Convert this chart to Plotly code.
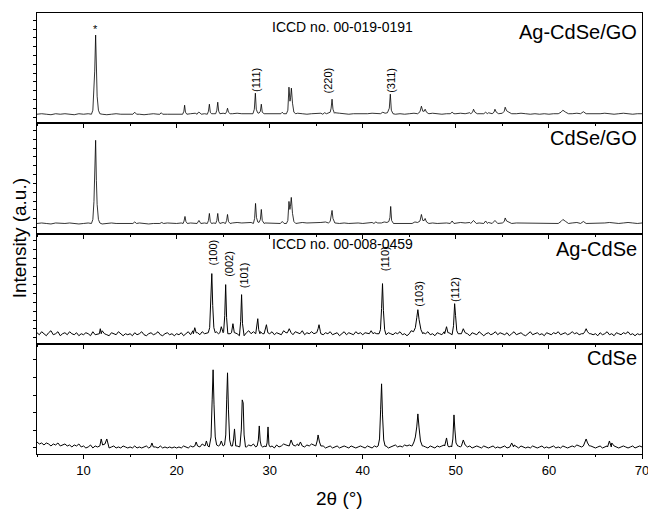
import plotly.graph_objects as go
from plotly.subplots import make_subplots

# ---------------- data (intensity in arbitrary units) ----------------
PANELS = ["Ag-CdSe/GO", "CdSe/GO", "Ag-CdSe", "CdSe"]
X_MIN, X_MAX = 5, 70
X_TICKS = [10, 20, 30, 40, 50, 60, 70]

# baselines: start angle, step, values
BASE_START = 5.0
BASE_STEP_GO = 0.5
BASE_STEP_NOISY = 0.25

BASE_AGCDSE_GO = [
    9, 9.5, 9, 8.5, 9.5, 9, 9.5, 9, 8.5, 9.5,
    9, 9.5, 9, 9.5, 9, 8.5, 9, 9.5, 9, 9,
    9, 9.5, 9, 8.5, 9, 9.5, 9, 9.5, 9, 9,
    9.5, 9, 9, 9.5, 10, 9.5, 9.5, 10, 9.5, 10,
    10, 9.5, 9.5, 10, 9.5, 9.5, 10, 9.5, 10, 9.5,
    9.5, 9, 9.5, 10, 9.5, 9.5, 10, 9.5, 9, 9.5,
    9.5, 10, 9.5, 10, 10.5, 10, 9.5, 9, 9.5, 9.5,
    9, 9.5, 10, 9.5, 10, 10.5, 9.5, 9, 9.5, 9,
    9.5, 10, 10.5, 10, 9.5, 10, 9.5, 9, 9.5, 10,
    9.5, 10, 9.5, 10.5, 10, 9.5, 10, 10.5, 10, 10.5,
    10, 10.5, 10, 9.5, 10, 9.5, 9, 9.5, 9, 9.5,
    9, 9.5, 10, 10.5, 10, 9.5, 10, 10.5, 10, 9.5,
    9, 9.5, 10, 9.5, 9, 9.5, 10, 9.5, 9, 9.5,
    9.5,
]
BASE_CDSE_GO = [
    10, 10.5, 10, 9.5, 10.5, 10, 10, 10.5, 10, 9.5,
    10, 10.5, 10, 10, 9.5, 10, 10.5, 10, 10, 10.5,
    10, 10, 10.5, 10, 9.5, 10, 10.5, 10, 10.5, 10,
    10, 10.5, 10, 10.5, 10.5, 11, 10.5, 11, 10.5, 11,
    11, 10.5, 10.5, 11, 10.5, 10.5, 11, 10.5, 11, 10.5,
    10.5, 10, 10.5, 11, 10.5, 10, 10.5, 11, 10.5, 10.5,
    10.5, 11, 11.5, 11, 10.5, 10, 10.5, 10, 10.5, 10.5,
    10, 10.5, 11, 10.5, 11, 10.5, 10.5, 10, 10.5, 10,
    10.5, 11, 11.5, 11, 10.5, 10.5, 10, 10.5, 10.5, 11,
    10.5, 11, 10.5, 11, 11.5, 10.5, 11, 11, 10.5, 11,
    11, 11.5, 11, 10.5, 10.5, 10, 10.5, 10, 10.5, 10,
    10.5, 10, 10.5, 11, 10.5, 10.5, 11, 11, 10.5, 10,
    10.5, 10, 10.5, 11, 10.5, 10, 10.5, 11, 10.5, 10,
    10.5,
]
BASE_AGCDSE = [
    11, 9, 12, 10, 8, 11, 13, 9, 10, 12, 8, 10, 11, 9, 12, 10, 9, 11, 8, 10,
    9, 11, 10, 8, 12, 9, 10, 11, 13, 10, 9, 8, 11, 10, 9, 12, 10, 8, 10, 9,
    10, 8, 11, 9, 10, 12, 9, 8, 10, 11, 9, 10, 12, 9, 8, 10, 11, 9, 10, 8,
    10, 9, 11, 8, 10, 12, 9, 13, 10, 11, 9, 12, 10, 11, 9, 10, 11, 12, 10, 13,
    11, 10, 12, 10, 13, 11, 10, 9, 12, 10, 11, 13, 10, 12, 10, 11, 12, 10, 13, 11,
    10, 12, 9, 11, 10, 9, 13, 11, 12, 10, 9, 12, 11, 10, 13, 9, 11, 10, 12, 10,
    11, 13, 10, 9, 11, 10, 12, 9, 10, 11, 8, 10, 12, 9, 11, 10, 9, 12, 10, 11,
    9, 11, 10, 12, 9, 11, 10, 8, 10, 12, 9, 11, 10, 9, 11, 10, 12, 9, 10, 8,
    10, 11, 9, 12, 10, 9, 11, 10, 12, 9, 10, 8, 11, 10, 9, 12, 10, 11, 9, 10,
    9, 11, 10, 12, 9, 10, 8, 11, 10, 9, 12, 10, 8, 10, 11, 9, 10, 12, 9, 11,
    10, 9, 11, 8, 10, 12, 9, 10, 11, 9, 8, 10, 12, 9, 10, 11, 9, 10, 8, 11,
    10, 9, 11, 10, 12, 9, 10, 11, 9, 10, 12, 10, 11, 9, 10, 12, 13, 11, 10, 9,
    10, 8, 11, 9, 10, 12, 9, 10, 8, 11, 10, 9, 11, 10, 12, 9, 10, 8, 10, 9,
    10,
]
BASE_CDSE = [
    13, 11, 12, 10, 12, 11, 9, 11, 10, 12, 9, 10, 11, 9, 10, 8, 10, 9, 11, 8,
    9, 7, 8, 10, 7, 9, 8, 7, 9, 8, 10, 7, 8, 9, 7, 8, 7, 9, 8, 7,
    8, 7, 9, 7, 8, 7, 8, 9, 7, 8, 7, 8, 7, 9, 7, 8, 7, 8, 7, 8,
    7, 8, 7, 9, 8, 7, 9, 8, 10, 9, 8, 11, 9, 10, 8, 9, 10, 11, 9, 10,
    9, 8, 10, 9, 8, 10, 9, 8, 11, 9, 8, 10, 9, 11, 8, 9, 10, 8, 9, 8,
    8, 9, 7, 10, 8, 9, 11, 10, 9, 12, 10, 9, 11, 10, 9, 8, 10, 9, 11, 10,
    9, 10, 8, 9, 7, 8, 9, 7, 8, 9, 7, 8, 9, 8, 7, 9, 8, 7, 8, 9,
    8, 7, 9, 8, 7, 9, 8, 10, 9, 8, 9, 7, 8, 9, 10, 8, 9, 8, 10, 9,
    10, 9, 11, 10, 9, 8, 9, 8, 7, 9, 8, 7, 9, 8, 9, 10, 9, 8, 9, 8,
    10, 9, 8, 9, 7, 8, 9, 7, 8, 9, 8, 7, 9, 8, 7, 8, 9, 7, 8, 7,
    8, 9, 7, 8, 9, 10, 8, 7, 9, 8, 7, 8, 7, 9, 8, 7, 8, 9, 7, 8,
    7, 8, 9, 7, 8, 7, 9, 8, 7, 8, 9, 8, 10, 9, 8, 10, 13, 10, 9, 8,
    7, 8, 9, 7, 8, 9, 8, 12, 9, 8, 7, 8, 9, 8, 7, 8, 9, 7, 8, 9,
    8,
]

# peaks: (angles, intensities)
PEAKS_AGCDSE_GO = [
    ([10.85, 11.0, 11.12, 11.2, 11.3, 11.38, 11.46, 11.6, 11.75], [9, 13, 30, 52, 88, 50, 27, 13, 9.5]),
    ([15.3, 15.5, 15.7], [9, 11, 9]),
    ([18.2, 18.35, 18.5], [9, 10.5, 9]),
    ([20.65, 20.78, 20.86, 20.95, 21.1], [9, 12, 18, 11, 9]),
    ([22.2, 22.35, 22.5, 22.65], [9, 11, 10.5, 9]),
    ([23.3, 23.42, 23.52, 23.62, 23.75], [9, 12, 19, 11, 9.5]),
    ([24.2, 24.32, 24.42, 24.52, 24.65], [9.5, 13, 21, 12, 9.5]),
    ([25.25, 25.37, 25.47, 25.57, 25.75], [9.5, 11.5, 15, 11, 9.5]),
    ([28.2, 28.35, 28.46, 28.56, 28.7], [9.5, 14, 30, 14, 10.5]),
    ([28.85, 29.0, 29.1, 29.2, 29.4], [10, 12, 19, 11, 9.5]),
    ([31.2, 31.35, 31.5], [9.5, 11, 9.5]),
    ([31.8, 31.95, 32.07, 32.18, 32.25, 32.33, 32.45, 32.6, 32.8], [9.5, 13, 36, 22, 26, 35, 20, 11, 9.5]),
    ([35.7, 35.9, 36.1], [9, 10.5, 9.5]),
    ([36.35, 36.5, 36.6, 36.7, 36.8, 36.95], [10, 11, 15, 24, 14, 10]),
    ([41.9, 42.15, 42.4, 42.65, 42.85, 42.96, 43.07, 43.25], [9.5, 11, 10, 10.5, 15, 29, 13, 9.5]),
    ([45.9, 46.15, 46.3, 46.45, 46.6, 46.7, 46.85, 47.1], [9.5, 11.5, 17, 12, 12, 14, 11, 9.5]),
    ([49.4, 49.6, 49.8], [9.5, 11, 9.5]),
    ([51.6, 51.8, 51.9, 52.05, 52.3], [9.5, 11, 14, 11, 9.5]),
    ([53.0, 53.2, 53.4], [9.5, 11, 9.5]),
    ([53.9, 54.1, 54.2, 54.35, 54.6], [9.5, 11, 14, 11, 9.5]),
    ([55.0, 55.2, 55.3, 55.45, 55.7, 56.0], [10, 12, 16, 12.5, 11, 9.5]),
    ([61.0, 61.3, 61.5, 61.8, 62.1], [9.5, 11, 13, 11, 9.5]),
    ([63.4, 63.7, 64.0], [9.5, 11.5, 9.5]),
]
PEAKS_CDSE_GO = [
    ([10.85, 11.0, 11.12, 11.2, 11.3, 11.38, 11.46, 11.6, 11.75], [10, 14, 32, 55, 93, 53, 29, 14, 10.5]),
    ([15.3, 15.5, 15.7], [10, 11.5, 10]),
    ([18.2, 18.4, 18.6], [10, 11, 10]),
    ([20.7, 20.8, 20.9, 21.0, 21.15], [10, 12.5, 17, 12, 10]),
    ([22.2, 22.4, 22.6], [10, 13, 10]),
    ([23.3, 23.42, 23.52, 23.62, 23.75], [10, 13, 20, 12, 10]),
    ([24.2, 24.32, 24.42, 24.52, 24.65], [10, 13, 20, 12, 10]),
    ([25.25, 25.37, 25.47, 25.57, 25.75], [10, 13, 19, 12, 10]),
    ([28.25, 28.38, 28.48, 28.58, 28.72], [10, 15, 30, 16, 11.5]),
    ([28.85, 29.0, 29.1, 29.2, 29.4], [11, 14, 24, 13, 10]),
    ([31.15, 31.35, 31.55], [10, 12, 10]),
    ([31.8, 31.95, 32.07, 32.17, 32.23, 32.32, 32.45, 32.6, 32.8], [10, 13, 32, 24, 27, 36, 20, 12, 10]),
    ([36.3, 36.5, 36.6, 36.7, 36.8, 36.95], [10.5, 12, 16, 23, 15, 10.5]),
    ([41.2, 41.4, 41.6], [10, 11.5, 10.5]),
    ([42.0, 42.3, 42.6, 42.8, 42.92, 43.0, 43.1, 43.3], [10.5, 11.5, 11, 12, 16, 27, 13, 10]),
    ([45.3, 45.6, 45.9, 46.15, 46.3, 46.45, 46.6, 46.7, 46.85, 47.1], [10, 11.5, 11, 12.5, 19, 13, 13, 15, 11.5, 10]),
    ([49.4, 49.6, 49.8], [10, 12.5, 10]),
    ([51.6, 51.9, 52.2], [10, 13, 10]),
    ([53.0, 53.2, 53.4], [10, 12.5, 10]),
    ([53.9, 54.2, 54.5], [10, 13, 10]),
    ([55.0, 55.2, 55.3, 55.45, 55.7, 56.0], [10.5, 12, 15.5, 12.5, 11.5, 10]),
    ([61.0, 61.3, 61.5, 61.8, 62.1], [10, 12, 14, 12, 10]),
    ([63.4, 63.7, 64.0], [10, 12, 10]),
]
PEAKS_AGCDSE = [
    ([11.7, 11.8, 11.9], [10, 15, 10]),
    ([21.8, 21.95, 22.1], [10, 16, 11]),
    ([23.4, 23.55, 23.68, 23.78, 23.88, 24.0, 24.15], [11, 16, 40, 70, 38, 16, 11]),
    ([24.65, 24.8, 24.95], [11, 17, 11]),
    ([25.05, 25.17, 25.27, 25.37, 25.5], [12, 28, 59, 26, 10]),
    ([25.9, 26.05, 26.2], [11, 20, 11]),
    ([26.75, 26.88, 26.98, 27.08, 27.25], [8, 22, 49, 20, 8]),
    ([28.5, 28.62, 28.72, 28.82, 28.95], [10, 16, 25, 14, 10]),
    ([29.4, 29.55, 29.65, 29.8], [10, 15, 19, 11]),
    ([31.9, 32.1, 32.3], [11, 15, 11]),
    ([35.05, 35.2, 35.3, 35.45], [11, 15, 19, 12]),
    ([40.7, 40.9, 41.1], [10, 13, 10]),
    ([41.75, 41.9, 42.02, 42.12, 42.22, 42.35, 42.5], [10, 14, 35, 60, 33, 14, 9]),
    ([45.0, 45.2, 45.45, 45.65, 45.8, 45.92, 46.05, 46.25, 46.45], [10, 13, 12, 16, 26, 34, 24, 14, 10]),
    ([48.8, 49.0, 49.15], [10, 17, 11]),
    ([49.6, 49.75, 49.87, 49.97, 50.1, 50.25], [9, 18, 40, 28, 13, 10]),
    ([50.6, 50.8, 51.0], [10, 15, 11]),
    ([63.7, 63.85, 64.0, 64.15, 64.35], [10, 12, 15, 12, 10]),
]
PEAKS_CDSE = [
    ([11.75, 11.9, 12.05, 12.3, 12.5, 12.65], [9, 16, 10, 11, 16, 10]),
    ([17.2, 17.35, 17.5], [8, 12, 8]),
    ([21.95, 22.1, 22.25], [9, 13, 9]),
    ([23.05, 23.2, 23.35], [9, 14, 9]),
    ([23.55, 23.7, 23.82, 23.92, 24.02, 24.15, 24.3], [10, 18, 55, 85, 50, 18, 10]),
    ([24.65, 24.8, 24.95], [10, 14, 10]),
    ([25.15, 25.28, 25.38, 25.47, 25.57, 25.7, 25.85], [10, 20, 55, 82, 45, 15, 9]),
    ([26.0, 26.12, 26.22, 26.35], [9, 16, 26, 9]),
    ([26.8, 26.95, 27.05, 27.15, 27.25, 27.4], [9, 25, 55, 52, 20, 8]),
    ([28.65, 28.78, 28.88, 28.98, 29.1], [9, 15, 29, 14, 9]),
    ([29.6, 29.72, 29.82, 29.92, 30.05], [8, 12, 28, 10, 8]),
    ([32.1, 32.3, 32.5], [9, 15, 10]),
    ([33.1, 33.3, 33.5], [9, 13, 9]),
    ([34.95, 35.1, 35.2, 35.35, 35.5], [9, 14, 20, 13, 9]),
    ([41.65, 41.8, 41.92, 42.02, 42.12, 42.25, 42.4], [9, 16, 45, 71, 40, 15, 9]),
    ([45.3, 45.5, 45.65, 45.8, 45.92, 46.05, 46.2, 46.4], [9, 13, 18, 28, 41, 27, 14, 9]),
    ([48.8, 49.0, 49.15], [9, 17, 9]),
    ([49.55, 49.68, 49.8, 49.9, 50.02, 50.2], [8, 16, 40, 25, 12, 9]),
    ([50.6, 50.8, 51.0], [9, 15, 10]),
    ([55.8, 56.0, 56.2], [8, 12, 8]),
    ([63.7, 63.85, 64.0, 64.15, 64.35], [9, 12, 16, 12, 9]),
    ([66.3, 66.5, 66.7], [8, 14, 8]),
]

# hkl labels: (text, angle, height) per panel
HKL_AGCDSE_GO = [("(111)", 28.5, 43), ("(220)", 36.3, 43), ("(311)", 43.0, 43)]
HKL_AGCDSE = [("(100)", 23.9, 91), ("(002)", 25.6, 79.5), ("(101)", 27.2, 68),
              ("(110)", 42.4, 84.5), ("(103)", 46.1, 49.5), ("(112)", 49.9, 54.5)]
ICCD_TEXT = ["ICCD no. 00-019-0191", None, "ICCD no. 00-008-0459", None]

Y_RANGES = [[0, 110], [0, 110], [0, 110], [1, 111]]
LINE_WIDTHS = [0.8, 0.8, 1.0, 1.0]


def build(step, base, peaks):
    bx = [BASE_START + i * step for i in range(len(base))]
    windows = [(min(px), max(px)) for px, _ in peaks]
    pts = [(x, y) for x, y in zip(bx, base) if not any(a <= x <= b for a, b in windows)]
    for px, py in peaks:
        pts += list(zip(px, py))
    pts.sort()
    return [p[0] for p in pts], [p[1] for p in pts]


series = [
    build(BASE_STEP_GO, BASE_AGCDSE_GO, PEAKS_AGCDSE_GO),
    build(BASE_STEP_GO, BASE_CDSE_GO, PEAKS_CDSE_GO),
    build(BASE_STEP_NOISY, BASE_AGCDSE, PEAKS_AGCDSE),
    build(BASE_STEP_NOISY, BASE_CDSE, PEAKS_CDSE),
]

FONT = "Liberation Sans, Arial, sans-serif"

fig = make_subplots(rows=4, cols=1, shared_xaxes=True, vertical_spacing=0)

for i, (xs, ys) in enumerate(series):
    fig.add_trace(go.Scatter(x=xs, y=ys, mode="lines", name=PANELS[i],
                             line=dict(color="black", width=LINE_WIDTHS[i]), showlegend=False),
                  row=i + 1, col=1)

for i in range(4):
    r = i + 1
    fig.update_xaxes(range=[X_MIN, X_MAX], tickvals=X_TICKS, ticks="outside", ticklen=4,
                     tickcolor="black", tickwidth=1, ticklabeloverflow="allow", automargin=False,
                     minor=dict(dtick=5, tick0=0, ticks="outside", ticklen=2, tickcolor="black"),
                     showline=True, linecolor="black", linewidth=1, mirror=True,
                     showgrid=False, zeroline=False, showticklabels=(r == 4),
                     tickfont=dict(family=FONT, size=13, color="black"), row=r, col=1)
    fig.update_yaxes(range=Y_RANGES[i], showticklabels=False, ticks="outside", ticklen=3,
                     tickcolor="black", dtick=(17.6 if r == 4 else 8.8), tick0=Y_RANGES[i][0] + 6,
                     showline=True, linecolor="black", linewidth=1, mirror=True, automargin=False,
                     showgrid=False, zeroline=False, row=r, col=1)

ann = []
label_y = [91, 95, 95, 97]
for i, name in enumerate(PANELS):
    ax = "" if i == 0 else str(i + 1)
    ann.append(dict(x=69.7, y=label_y[i], xref="x" + ax, yref="y" + ax, text=name,
                    showarrow=False, xanchor="right", yanchor="middle",
                    font=dict(family=FONT, size=20, color="black")))
    if ICCD_TEXT[i]:
        ann.append(dict(x=37.8, y=(96 if i == 0 else 99.5), xref="x" + ax, yref="y" + ax,
                        text=ICCD_TEXT[i], showarrow=False, xanchor="center", yanchor="middle",
                        font=dict(family=FONT, size=14, color="black")))

for text, xx, yy in HKL_AGCDSE_GO:
    ann.append(dict(x=xx, y=yy, xref="x", yref="y", text=text, textangle=-90, showarrow=False,
                    font=dict(family=FONT, size=11, color="black")))
for text, xx, yy in HKL_AGCDSE:
    ann.append(dict(x=xx, y=yy, xref="x3", yref="y3", text=text, textangle=-90, showarrow=False,
                    font=dict(family=FONT, size=11, color="black")))
ann.append(dict(x=11.3, y=94, xref="x", yref="y", text="*", showarrow=False,
                font=dict(family=FONT, size=11, color="black")))

# axis titles
ann.append(dict(x=0.5, y=-0.101, xref="paper", yref="paper", text="2θ (°)", showarrow=False,
                yanchor="middle", font=dict(family=FONT, size=19, color="black")))
ann.append(dict(x=-0.029, y=0.49, xref="paper", yref="paper", text="Intensity (a.u.)",
                textangle=-90, showarrow=False, xanchor="center", yanchor="middle",
                font=dict(family=FONT, size=19, color="black")))

fig.update_layout(width=648, height=509, margin=dict(l=37, r=6, t=13, b=55, autoexpand=False),
                  plot_bgcolor="white", paper_bgcolor="white", annotations=ann,
                  showlegend=False)

fig.write_html("out.html", config={"displayModeBar": False},
               post_script="document.body.style.margin='0';document.body.style.padding='0';")
